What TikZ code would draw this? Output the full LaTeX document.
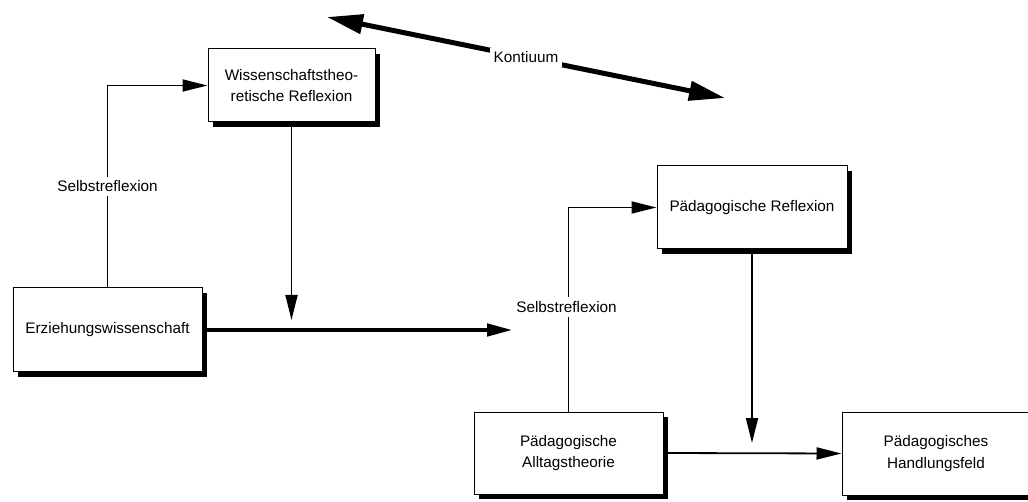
\documentclass[tikz,border=0pt]{standalone}
\usepackage{fontspec}
\setmainfont{Liberation Sans}
\usetikzlibrary{arrows.meta,shadows}
\begin{document}
\begin{tikzpicture}[x=1pt,y=-1pt,
  box/.style={draw=black,line width=1pt,fill=white,inner sep=0pt,align=center,
    font=\fontsize{15.3}{21.5}\selectfont,
    drop shadow={shadow xshift=5pt,shadow yshift=-5pt,fill=black,opacity=1}},
  conn/.style={line width=1.8pt,-{Triangle[length=25pt,width=12pt]}},
  thickconn/.style={line width=3.2pt,-{Triangle[length=25pt,width=12.5pt]}},
  kont/.style={line width=5pt,{Triangle[length=36pt,width=19pt]}-{Triangle[length=36pt,width=19pt]}},
  lbl/.style={fill=white,inner sep=4pt,font=\fontsize{15.3}{18}\selectfont}]
\fill[white] (0,0) rectangle (1028,502);
\useasboundingbox (0,0) rectangle (1028,502);

\node[box,minimum width=167pt,minimum height=73pt] (wiss) at (291.5,85.5) {Wissenschaftstheo-\\retische Reflexion};
\node[box,minimum width=189pt,minimum height=84pt] (erz) at (107.5,330) {Erziehungswissenschaft};
\node[box,minimum width=190pt,minimum height=83pt] (pref) at (752,207.5) {Pädagogische Reflexion};
\node[box,minimum width=189pt,minimum height=82pt] (alltag) at (568.5,453) {Pädagogische\\Alltagstheorie};
\node[box,minimum width=188pt,minimum height=83pt] (hand) at (936,453.5) {Pädagogisches\\Handlungsfeld};

\coordinate (c1) at (292,320);
\coordinate (c2) at (512,331);
\coordinate (c3) at (752,443);
\coordinate (k1) at (327,17);
\coordinate (k2) at (725,98);

\draw[conn] (erz.north) |- node[lbl,pos=0.25] {Selbstreflexion} (wiss.west);
\draw[conn] (wiss.south) -- (wiss.south |- c1);
\draw[thickconn] (erz.east) -- (erz.east -| c2);
\draw[conn] (alltag.north) |- node[lbl,pos=0.256,xshift=-2pt] {Selbstreflexion} (pref.west);
\draw[conn] (pref.south) -- (pref.south |- c3);
\draw[conn] (alltag.east) -- (hand.west);
\draw[kont] (k1) -- node[lbl] (kl) {Kontiuum} (k2);
\end{tikzpicture}
\end{document}
